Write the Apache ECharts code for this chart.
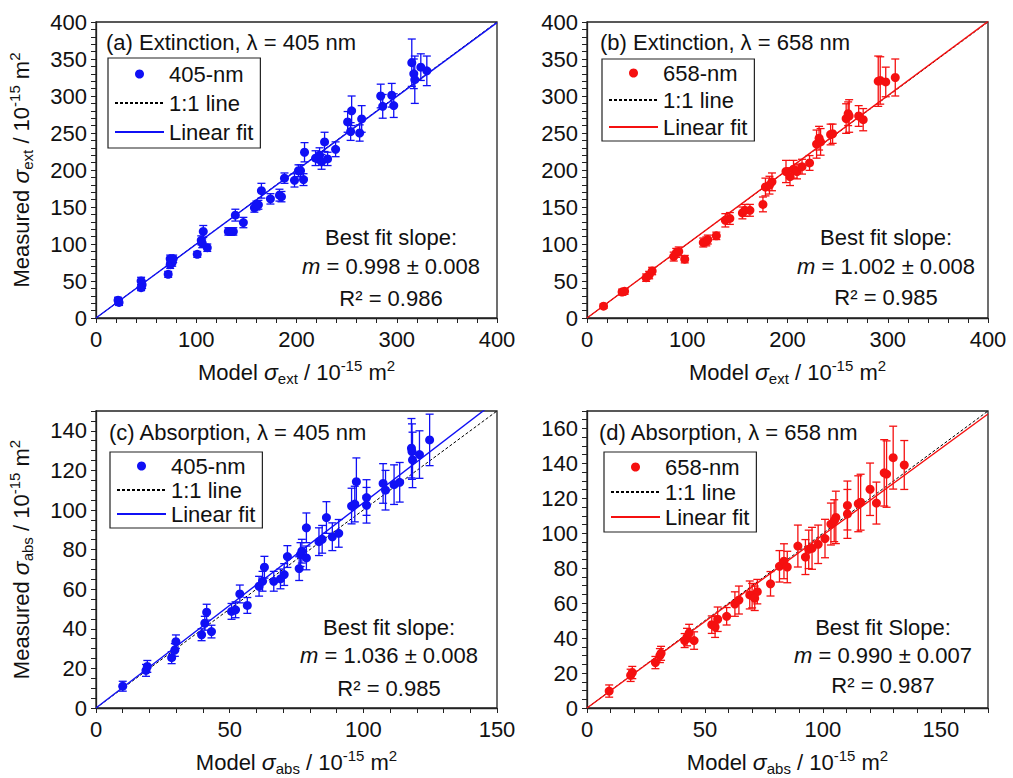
<!DOCTYPE html>
<html><head><meta charset="utf-8">
<script src="https://cdn.jsdelivr.net/npm/echarts@6/dist/echarts.min.js"></script>
<style>html,body{margin:0;padding:0;background:#fff}#c{width:1013px;height:778px}</style>
</head><body><div id="c"></div>
<script>
// ---------- data ----------
// (a) Extinction, 405 nm
const xA = [22, 23, 45, 46, 45, 72, 74, 76, 74, 77, 101, 105, 107, 111, 106, 132, 135, 137, 139, 147, 158, 160, 162, 165, 174, 183, 185, 188, 198, 202, 204, 207, 208, 219, 223, 225, 228, 231, 239, 251, 255, 254, 263, 265, 284, 286, 295, 297, 315, 317, 318, 324, 330];
const yA = [24, 21, 50, 45, 41, 59, 72, 75, 80, 80, 86, 105, 117, 95, 101, 117, 117, 117, 139, 129, 149, 152, 153, 172, 161, 166, 164, 189, 186, 199, 199, 187, 224, 216, 220, 211, 238, 215, 228, 265, 280, 252, 250, 269, 300, 286, 301, 287, 345, 330, 322, 339, 334];
const eA = [4, 4, 5, 5, 4, 4, 5, 5, 5, 5, 4, 6, 8, 5, 6, 5, 5, 5, 8, 7, 6, 6, 6, 10, 7, 8, 7, 7, 9, 8, 8, 8, 13, 10, 10, 10, 13, 9, 10, 14, 20, 12, 11, 18, 16, 16, 16, 16, 32, 20, 32, 18, 20];
// (b) Extinction, 658 nm
const xB = [16.5, 35, 37.5, 59, 62, 65, 86.5, 89, 91.5, 97.5, 116, 119, 120.5, 129, 138, 142.5, 155, 157.5, 162.5, 175.5, 178, 182, 184.5, 198.5, 202.5, 206, 209.5, 214.5, 222, 229, 233, 231.5, 243, 245, 258.5, 261.5, 260.5, 271, 275.5, 290.5, 292.5, 298, 307.5];
const yB = [16, 35, 36, 54.5, 58, 63.5, 83, 88, 90, 79.5, 102, 103.5, 106, 111, 132, 134.5, 142, 145.5, 145.5, 153.5, 177, 179.5, 184, 198, 191, 201, 198, 204.5, 209.5, 235, 238, 243, 248, 249, 269.5, 273, 276, 273, 268, 320, 321, 319, 325];
const eB = [3, 4, 4, 5, 5, 5, 6, 6, 6, 5, 6, 6, 6, 5, 9, 8, 8, 8, 8, 10, 12, 12, 12, 15, 12, 12, 10, 10, 10, 19, 18, 16, 14, 13, 20, 22, 16, 14, 15, 34, 32, 20, 25];
// (c) Absorption, 405 nm
const xC = [10, 18.7, 19.2, 28.3, 29.5, 29.9, 39.5, 40.7, 41.4, 43.2, 50.7, 52.2, 53.8, 56.6, 61, 62.3, 63, 66.5, 69, 70.4, 71.6, 76, 76.5, 77, 78.7, 78.7, 83.4, 84.6, 86.2, 88.4, 90.8, 95.6, 96.8, 97.4, 101.2, 101.2, 107.4, 108.3, 111.5, 113.6, 118, 118.4, 118.2, 121, 124.8];
const yC = [11, 19, 21, 25.4, 29.3, 33.5, 37, 42.8, 48.4, 38.6, 48.8, 49.6, 57.6, 51.8, 61.5, 64, 71.1, 64, 65.2, 67.4, 76.5, 70.4, 77.5, 79.2, 91, 75.8, 84, 85.2, 96.2, 86.5, 88.2, 102, 103, 114.3, 102.4, 106.3, 113.4, 110, 112.8, 114, 131.2, 125.3, 129.5, 128, 135.4];
const eC = [2.5, 3, 3, 3, 3.2, 3.4, 3, 3.5, 4, 3.2, 4, 4, 4.5, 4, 5, 5, 5.5, 5, 5, 5.5, 5.5, 6, 6, 6, 7.5, 6, 7, 7, 8, 7, 7, 9, 9, 12, 9, 9, 10, 10, 10, 10, 15, 14, 14, 12, 13];
// (d) Absorption, 658 nm
const xD = [9.4, 18.5, 19.2, 29, 30.9, 31.4, 41.4, 42.4, 43.3, 45.4, 52.9, 54.3, 55.4, 59.2, 62.7, 64.4, 69, 70, 72.2, 71.1, 77.8, 81.6, 83.5, 84.9, 89.4, 92.6, 94, 95.4, 98, 100.9, 103.4, 105.5, 104.8, 110.4, 110.4, 115, 116, 120, 122.7, 126, 127, 129.8, 134.5];
const yD = [9.7, 18.7, 20.3, 26, 30, 31.3, 38.6, 40.6, 42.9, 38.6, 47.7, 46.4, 50.8, 52.5, 59.5, 61.8, 64.7, 64.3, 66.6, 62.8, 71.1, 81.1, 84, 80.7, 92.7, 86.4, 90.8, 91.4, 93.7, 97, 105.3, 109.1, 107.2, 115.9, 111.1, 116.9, 117.8, 125.2, 117.3, 134.6, 133.9, 143.3, 139.1];
const eD = [3.5, 3.5, 3.5, 3.5, 4, 4, 4, 5, 5, 5, 5, 6, 7, 5, 7, 8, 8, 7, 7, 7, 7, 9, 10, 9, 12, 10, 11, 12, 11, 11, 12, 15, 12, 14, 14, 16, 16, 15, 12, 19, 19, 18, 14];
// 1:1 lines and linear fits (end points)
const oneA = [[0, 0], [400, 400]], fitA = [[0, 0], [400, 399.2]];
const oneB = [[0, 0], [400, 400]], fitB = [[0, 0], [400, 400.8]];
const oneC = [[0, 0], [150, 150]], fitC = [[0, 0], [150, 155.4]];
const oneD = [[0, 0], [170, 170]], fitD = [[0, 0], [170, 168.3]];
// axis ranges / tick steps
const axisMax = [400, 400, 150, 170];
const xTickStep = [20, 20, 10, 10], xLabelStep = [100, 100, 50, 50];
const yTickStep = [10, 10, 5, 5],   yLabelStep = [50, 50, 20, 20];
// texts
const panelTitles = ['(a) Extinction, λ = 405 nm', '(b) Extinction, λ = 658 nm', '(c) Absorption, λ = 405 nm', '(d) Absorption, λ = 658 nm'];
const seriesNames = ['405-nm', '658-nm', '405-nm', '658-nm'];
const fitHeads = ['Best fit slope:', 'Best fit slope:', 'Best fit slope:', 'Best fit Slope:'];
const slopeTexts = ['0.998 ± 0.008', '1.002 ± 0.008', '1.036 ± 0.008', '0.990 ± 0.007'];
const r2Texts = ['R² = 0.986', 'R² = 0.985', 'R² = 0.985', 'R² = 0.987'];
const subs = ['ext', 'ext', 'abs', 'abs'];

// ---------- styling / layout ----------
const FONT = '"Liberation Sans", Arial, sans-serif';
const FS = 22;
const BLUE = '#1010f5', RED = '#f51010', INK = '#111';
const tags = ['a', 'b', 'c', 'd'];
const P = [
  {x: xA, y: yA, e: eA, one: oneA, fit: fitA, color: BLUE},
  {x: xB, y: yB, e: eB, one: oneB, fit: fitB, color: RED},
  {x: xC, y: yC, e: eC, one: oneC, fit: fitC, color: BLUE},
  {x: xD, y: yD, e: eD, one: oneD, fit: fitD, color: RED}
];
const grids = [
  {left: 96, top: 22, width: 401, height: 296},
  {left: 587, top: 22, width: 401, height: 296},
  {left: 96, top: 411, width: 401, height: 297},
  {left: 587, top: 411, width: 401, height: 297}
];
const legendPos = [
  {left: 108, top: 58, gap: 7, pad: 5},
  {left: 602, top: 59, gap: 5, pad: 3},
  {left: 110, top: 452, gap: 2, pad: 3},
  {left: 604, top: 452, gap: 3, pad: 4}
];
const titlePos = [[106, 42], [600, 42], [109, 432], [599, 432]];
const notePos = [[391, 237, 266, 298], [886, 237, 266, 297], [389, 627, 655, 688], [883, 627, 655, 685]];

const nameRich = {
  n: {fontSize: FS, fontFamily: FONT, color: INK, lineHeight: 28},
  s: {fontSize: FS + 1, fontFamily: FONT, fontStyle: 'italic', color: INK, lineHeight: 28},
  b: {fontSize: 15, fontFamily: FONT, color: INK, lineHeight: 15, verticalAlign: 'bottom'},
  p: {fontSize: 15, fontFamily: FONT, color: INK, lineHeight: 15, verticalAlign: 'top'}
};

function valueAxis(i, max, step, labStep, isY) {
  return {
    type: 'value', gridIndex: i, min: 0, max: max, interval: step,
    axisLine: {show: true, onZero: false, lineStyle: {color: '#222', width: 1.3}},
    axisTick: {show: true, inside: false, length: 5, lineStyle: {color: '#222', width: 1}},
    splitLine: {show: false},
    axisLabel: {
      fontSize: FS, fontFamily: FONT, color: INK, margin: isY ? 9 : 10,
      showMinLabel: true, showMaxLabel: true,
      formatter: v => { const r = Math.round(v); return (Math.abs(v - r) < 1e-6 && r % labStep === 0) ? String(r) : ''; }
    }
  };
}

const xAxes = [], yAxes = [], series = [], legends = [], graphics = [];
P.forEach((p, i) => {
  const t = tags[i];
  xAxes.push(Object.assign(valueAxis(i, axisMax[i], xTickStep[i], xLabelStep[i], false), {
    name: '{n|Model }{s|σ}{b|' + subs[i] + '}{n| / 10}{p|-15}{n| m}{p|2}',
    nameLocation: 'middle', nameGap: 40,
    nameTextStyle: {rich: nameRich, fontSize: FS, fontFamily: FONT, color: INK}
  }));
  const ya = valueAxis(i, axisMax[i], yTickStep[i], yLabelStep[i], true);
  if (i === 0 || i === 2) {
    Object.assign(ya, {
      name: '{n|Measured }{s|σ}{b|' + subs[i] + '}{n| / 10}{p|-15}{n| m}{p|2}',
      nameLocation: 'middle', nameGap: 61, nameRotate: 90,
      nameTextStyle: {rich: nameRich, fontSize: FS, fontFamily: FONT, color: INK}
    });
  }
  yAxes.push(ya);

  // 1:1 line
  series.push({
    type: 'line', name: '1:1 line (' + t + ')', xAxisIndex: i, yAxisIndex: i,
    data: p.one, symbol: 'none', showSymbol: false, silent: true, z: 2,
    itemStyle: {color: 'rgba(0,0,0,0)'},
    lineStyle: {color: '#000', width: 1, type: [3, 2]}
  });
  // linear fit
  series.push({
    type: 'line', name: 'Linear fit (' + t + ')', xAxisIndex: i, yAxisIndex: i,
    data: p.fit, symbol: 'none', showSymbol: false, silent: true, z: 3,
    itemStyle: {color: 'rgba(0,0,0,0)'},
    lineStyle: {color: p.color, width: 1.4}
  });
  // error bars
  series.push({
    type: 'custom', name: 'err-' + t, xAxisIndex: i, yAxisIndex: i, silent: true, z: 4,
    data: p.x.map((v, k) => [v, p.y[k] - p.e[k], p.y[k] + p.e[k]]),
    encode: {x: 0, y: [1, 2]},
    renderItem: (params, api) => {
      const x = api.value(0);
      const lo = api.coord([x, api.value(1)]);
      const hi = api.coord([x, api.value(2)]);
      const w = 4;
      const st = {stroke: p.color, lineWidth: 1.3};
      return {type: 'group', children: [
        {type: 'line', shape: {x1: hi[0], y1: hi[1], x2: lo[0], y2: lo[1]}, style: st},
        {type: 'line', shape: {x1: hi[0] - w, y1: hi[1], x2: hi[0] + w, y2: hi[1]}, style: st},
        {type: 'line', shape: {x1: lo[0] - w, y1: lo[1], x2: lo[0] + w, y2: lo[1]}, style: st}
      ]};
    }
  });
  // points
  series.push({
    type: 'scatter', name: seriesNames[i] + ' (' + t + ')', xAxisIndex: i, yAxisIndex: i, z: 5,
    data: p.x.map((v, k) => [v, p.y[k]]), symbol: 'circle', symbolSize: 9,
    itemStyle: {color: p.color, opacity: 1}
  });

  const lp = legendPos[i];
  legends.push({
    left: lp.left, top: lp.top, orient: 'vertical',
    data: [
      {name: seriesNames[i] + ' (' + t + ')', icon: 'circle'},
      {name: '1:1 line (' + t + ')', itemStyle: {opacity: 0}},
      {name: 'Linear fit (' + t + ')', itemStyle: {opacity: 0}}
    ],
    formatter: n => n.replace(/ \([a-d]\)$/, ''),
    itemWidth: 49, itemHeight: 9, itemGap: lp.gap,
    padding: [lp.pad, 7, lp.pad, 6], backgroundColor: '#fff', borderColor: '#222', borderWidth: 1.2, borderRadius: 0,
    selectedMode: false,
    textStyle: {fontSize: FS, fontFamily: FONT, color: INK}
  });

  graphics.push({
    type: 'text', x: titlePos[i][0], y: titlePos[i][1], z: 100,
    style: {text: panelTitles[i], fontSize: FS, fontFamily: FONT, fill: INK, align: 'left', verticalAlign: 'middle', textAlign: 'left', textVerticalAlign: 'middle'}
  });
  const np = notePos[i];
  graphics.push({
    type: 'text', x: np[0], y: np[1], z: 100,
    style: {text: fitHeads[i], fontSize: FS, fontFamily: FONT, fill: INK, align: 'center', verticalAlign: 'middle', textAlign: 'center', textVerticalAlign: 'middle'}
  });
  graphics.push({
    type: 'text', x: np[0], y: np[2], z: 100,
    style: {
      text: '{i|m}{t| = ' + slopeTexts[i] + '}', fill: INK, fontSize: FS, fontFamily: FONT,
      align: 'center', verticalAlign: 'middle', textAlign: 'center', textVerticalAlign: 'middle',
      rich: {i: {fontSize: FS, fontFamily: FONT, fontStyle: 'italic', fill: INK, color: INK}, t: {fontSize: FS, fontFamily: FONT, fill: INK, color: INK}}
    }
  });
  graphics.push({
    type: 'text', x: np[0], y: np[3], z: 100,
    style: {text: r2Texts[i], fontSize: FS, fontFamily: FONT, fill: INK, align: 'center', verticalAlign: 'middle', textAlign: 'center', textVerticalAlign: 'middle'}
  });
});

const chart = echarts.init(document.getElementById('c'), null, {renderer: 'svg'});
chart.setOption({
  animation: false,
  backgroundColor: '#fff',
  grid: grids.map(g => Object.assign({show: true, borderColor: '#222', borderWidth: 1.3, backgroundColor: 'transparent', containLabel: false, outerBoundsMode: 'none'}, g)),
  xAxis: xAxes,
  yAxis: yAxes,
  legend: legends,
  series: series,
  graphic: graphics
});
</script>
</body></html>
